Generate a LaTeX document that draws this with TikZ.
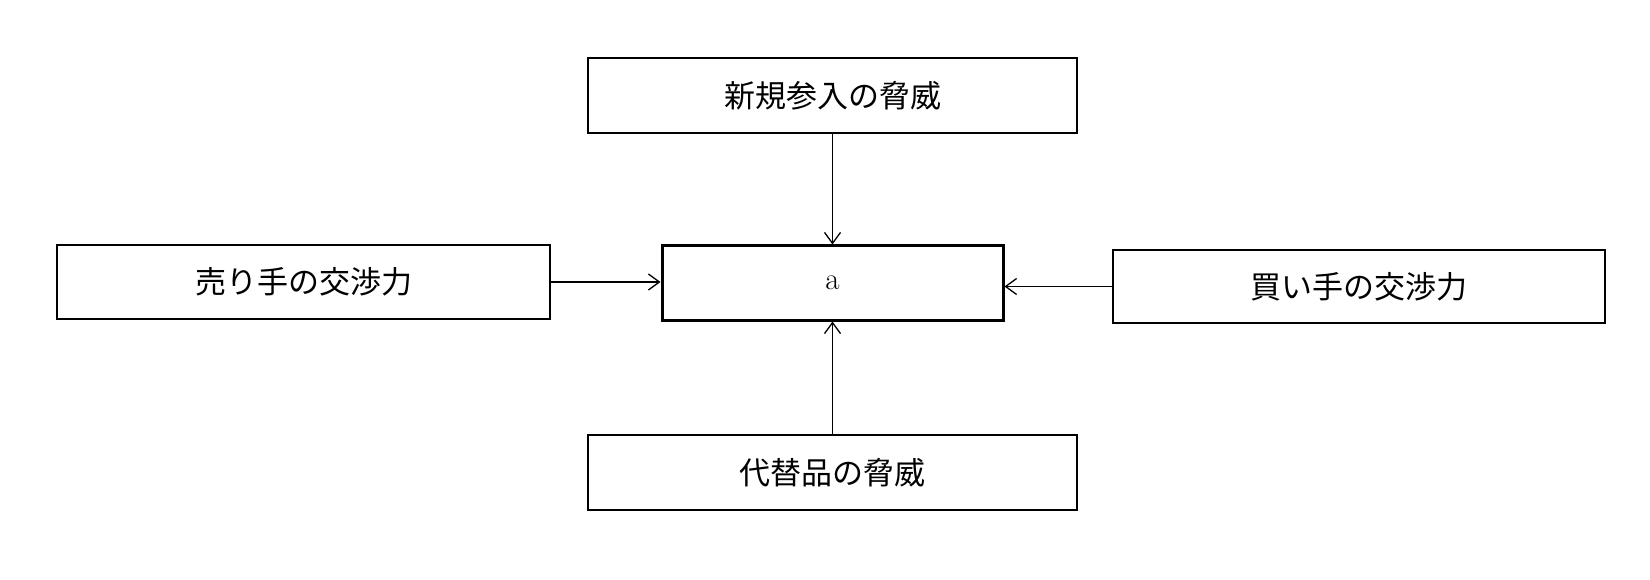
\documentclass[tikz,border=0pt]{standalone}
\usepackage{fontspec}
\newfontfamily\cjk{Noto Sans CJK JP}
\usetikzlibrary{arrows.meta}
\begin{document}
\begin{tikzpicture}[x=1pt,y=-1pt,
  box/.style={draw,line width=1.3pt,minimum width=489pt,minimum height=75pt,inner sep=0pt,font=\cjk\fontsize{31}{36}\selectfont},
  arr/.style={line width=1.3pt,-{Straight Barb[length=11pt,width=16pt]}}]
\useasboundingbox (0,0) rectangle (1650,580);
\node[box] (top) at (832.5,95.5) {新規参入の脅威};
\node[box,minimum width=493pt,minimum height=74pt] (left) at (303.5,282) {売り手の交渉力};
\node[box,minimum width=341pt,minimum height=74pt,line width=3pt,font=\fontsize{31}{36}\selectfont] (ctr) at (832.5,283) {a};
\node[box,minimum width=492pt,minimum height=73pt] (right) at (1359,286.5) {買い手の交渉力};
\node[box] (bot) at (832.5,472.5) {代替品の脅威};
\draw[arr] (top) -- (ctr);
\draw[arr] (bot) -- (ctr);
\draw[arr] (left) -- (ctr.west|-left);
\draw[arr] (right) -- (ctr.east|-right);
\end{tikzpicture}
\end{document}
